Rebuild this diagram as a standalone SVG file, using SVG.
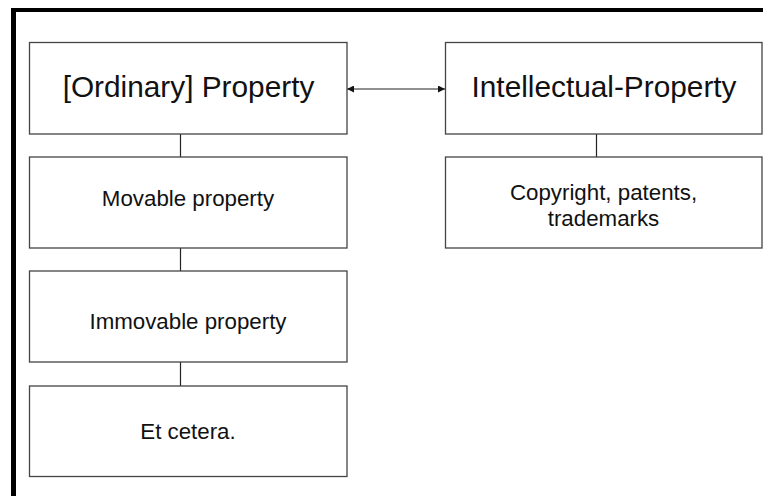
<svg xmlns="http://www.w3.org/2000/svg" width="763" height="496" viewBox="0 0 763 496">
<defs>
<style>
.box{fill:#fff;stroke:#444;stroke-width:1.3}
.big{font-family:"Liberation Sans",Arial,sans-serif;font-size:29.8px;fill:#111;text-anchor:middle}
.sm{font-family:"Liberation Sans",Arial,sans-serif;font-size:22.3px;fill:#111;text-anchor:middle}
.conn{stroke:#222;stroke-width:1.2;fill:none}
</style>
<marker id="ah" viewBox="0 0 10 10" refX="10" refY="5" markerWidth="9" markerHeight="7" markerUnits="userSpaceOnUse" orient="auto-start-reverse">
<path d="M0,0 L10,5 L0,10 Z" fill="#111"/>
</marker>
</defs>
<rect x="0" y="0" width="763" height="496" fill="#fff"/>
<g id="frame">
<rect x="11" y="8" width="752" height="4" fill="#000"/>
<rect x="11" y="8" width="5" height="488" fill="#000"/>
</g>
<g id="connectors">
<line class="conn" x1="180.5" y1="134" x2="180.5" y2="157"/>
<line class="conn" x1="180.5" y1="248" x2="180.5" y2="271"/>
<line class="conn" x1="180.5" y1="362" x2="180.5" y2="386"/>
<line class="conn" x1="596.5" y1="134" x2="596.5" y2="157"/>
<line class="conn" x1="347" y1="89" x2="445" y2="89" marker-start="url(#ah)" marker-end="url(#ah)"/>
</g>
<g id="ordinary">
<rect class="box" x="29.5" y="42.5" width="317.5" height="91.5"/>
<text class="big" x="188.5" y="97">[Ordinary] Property</text>
</g>
<g id="intellectual">
<rect class="box" x="445.5" y="42.5" width="316.5" height="91.5"/>
<text class="big" x="604" y="97">Intellectual-Property</text>
</g>
<g id="movable">
<rect class="box" x="29.5" y="157" width="317.5" height="91"/>
<text class="sm" x="188" y="206">Movable property</text>
</g>
<g id="copyright">
<rect class="box" x="445.5" y="157" width="316.5" height="91"/>
<text class="sm" x="603.5" y="199.5">Copyright, patents,</text>
<text class="sm" x="603.5" y="226">trademarks</text>
</g>
<g id="immovable">
<rect class="box" x="29.5" y="271" width="317.5" height="91"/>
<text class="sm" x="188" y="328.5">Immovable property</text>
</g>
<g id="etcetera">
<rect class="box" x="29.5" y="386" width="317.5" height="90.5"/>
<text class="sm" x="188" y="439">Et cetera.</text>
</g>
</svg>
